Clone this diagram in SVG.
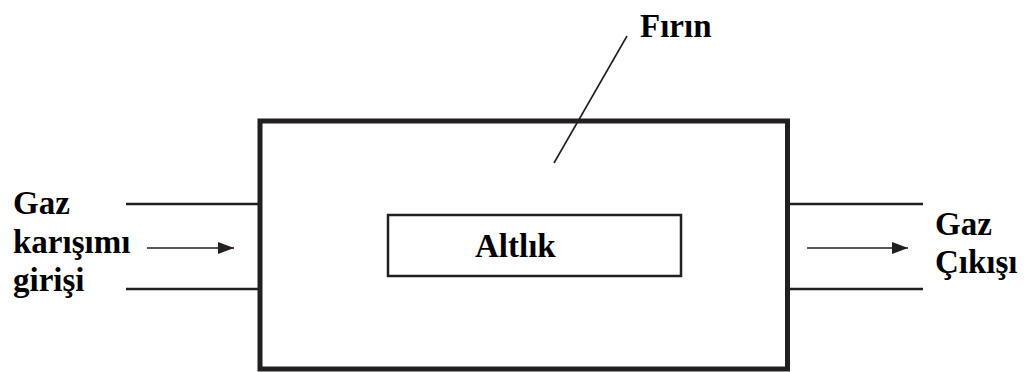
<svg xmlns="http://www.w3.org/2000/svg" width="1025" height="372" viewBox="0 0 1025 372">
  <style>
    text { font-family: 'Liberation Serif', 'Times New Roman', Times, 'DejaVu Serif', serif; font-weight: 700; font-size: 33px; fill: #000; }
    .wall { fill: none; stroke: #231f20; stroke-width: 5; }
    .box { fill: none; stroke: #231f20; stroke-width: 2.5; }
    .pipe { stroke: #231f20; stroke-width: 2.5; fill: none; }
    .flow { stroke: #231f20; stroke-width: 1.6; fill: none; marker-end: url(#head); }
    .lead { stroke: #231f20; stroke-width: 1.6; fill: none; }
  </style>
  <defs>
    <marker id="head" viewBox="0 0 16 12" refX="16" refY="6" markerWidth="16" markerHeight="12" markerUnits="userSpaceOnUse" orient="auto">
      <path d="M0,0 L16,6 L0,12 Z" fill="#231f20"/>
    </marker>
  </defs>
  <rect width="1025" height="372" fill="#fff"/>

  <!-- furnace body -->
  <g id="firin">
    <rect class="wall" x="260" y="121" width="527.5" height="248"/>
    <text x="640" y="37" font-family="Liberation Serif, serif">Fırın</text>
  </g>

  <!-- substrate holder -->
  <g id="altlik">
    <rect class="box" x="388" y="215" width="293" height="61"/>
    <text x="475" y="257" font-family="Liberation Serif, serif">Altlık</text>
  </g>

  <!-- gas inlet -->
  <g id="giris" font-family="Liberation Serif, serif">
    <text x="13" y="214">Gaz</text>
    <text x="13" y="253">karışımı</text>
    <text x="13" y="291">girişi</text>
  </g>

  <!-- gas outlet -->
  <g id="cikis" font-family="Liberation Serif, serif">
    <text x="935" y="235">Gaz</text>
    <text x="935" y="273">Çıkışı</text>
  </g>

  <!-- pipes, flow arrows and leader line -->
  <g id="connectors">
    <line class="pipe" x1="126" y1="204" x2="258" y2="204"/>
    <line class="pipe" x1="126" y1="289" x2="258" y2="289"/>
    <line class="flow" x1="147" y1="248" x2="234" y2="248"/>
    <line class="pipe" x1="790" y1="204" x2="923" y2="204"/>
    <line class="pipe" x1="790" y1="289" x2="923" y2="289"/>
    <line class="flow" x1="807" y1="248" x2="908" y2="248"/>
    <line class="lead" x1="627" y1="36" x2="554" y2="163"/>
  </g>
</svg>
